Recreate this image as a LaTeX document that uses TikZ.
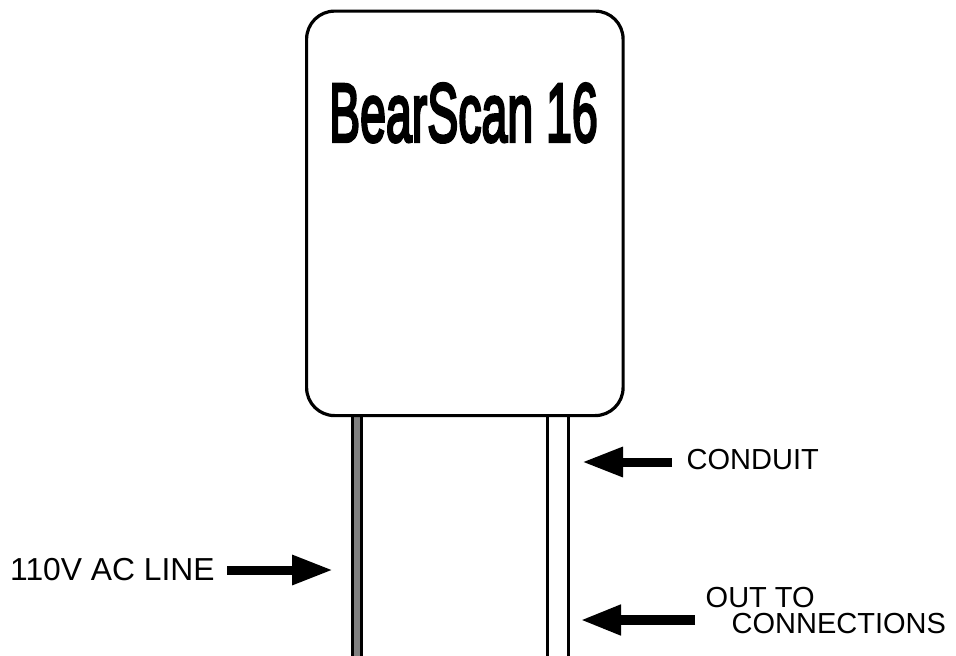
\documentclass[tikz,border=0pt]{standalone}
\usepackage{fontspec}
\usepackage{graphicx}
\setmainfont{Liberation Sans}
\newfontfamily\titlefont{Liberation Sans}[FakeBold=4]
\usetikzlibrary{arrows.meta}
\definecolor{wiregray}{HTML}{808080}
\tikzset{
  lab/.style={inner sep=0pt, font=\fontsize{29}{29}\selectfont},
  bigarrow/.style={line width=9pt, -{Triangle[length=41pt,width=28pt]}},
  wireline/.style={line width=3pt},
}
\begin{document}
\begin{tikzpicture}[x=1pt,y=-1pt]
\useasboundingbox[fill=white] (0,0) rectangle (956,656);
% AC line wire
\fill[wiregray] (352.5,414) rectangle (361.3,660);
\coordinate (w1a) at (352.5,414); \coordinate (w1b) at (352.5,660);
\coordinate (w2a) at (361.3,414); \coordinate (w2b) at (361.3,660);
\draw[line width=2.6pt] (w1a) -- (w1b) (w2a) -- (w2b);
% conduit
\coordinate (c1a) at (547.5,414); \coordinate (c1b) at (547.5,660);
\coordinate (c2a) at (568,414); \coordinate (c2b) at (568,660);
\draw[wireline] (c1a) -- (c1b) (c2a) -- (c2b);
% box
\node[draw, fill=white, line width=3.2pt, rounded corners=28pt, minimum width=316.5pt, minimum height=404.5pt, anchor=north west, inner sep=0pt] (box) at (305,9.5) {};
\node[anchor=base, inner sep=0pt] (title) at (463.5,141.5) {\titlefont\scalebox{0.56}[1]{\fontsize{83}{83}\selectfont BearScan 16}};
% labels
\node[lab, anchor=base west, font=\fontsize{31.8}{31.8}\selectfont] (acl) at (10,580) {110V AC LINE};
\node[lab, anchor=base west] (cond) at (686.5,469.5) {CONDUIT};
\node[lab, anchor=base west] (out1) at (705.5,607) {OUT TO};
\node[lab, anchor=base west] (out2) at (731.5,633) {CONNECTIONS};
% arrows
\coordinate (a1s) at (227,570); \coordinate (a1t) at (333,570);
\coordinate (a2s) at (672,462); \coordinate (a2t) at (582,462);
\coordinate (a3s) at (695,620); \coordinate (a3t) at (580,620);
\draw[bigarrow] (a1s) -- (a1t);
\draw[bigarrow] (a2s) -- (a2t);
\draw[bigarrow, line width=10pt] (a3s) -- (a3t);
\end{tikzpicture}
\end{document}
